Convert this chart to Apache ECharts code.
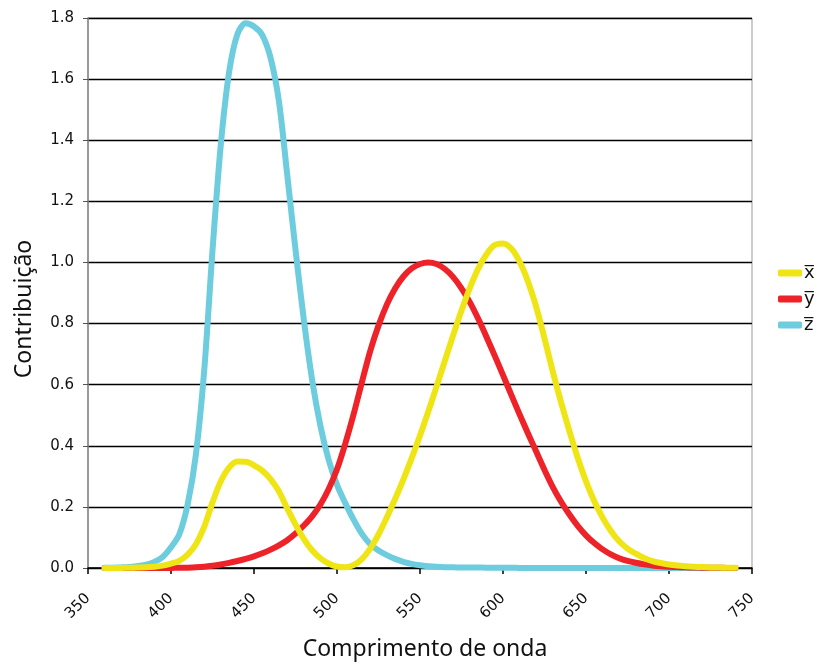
<!DOCTYPE html>
<html>
<head>
<meta charset="utf-8">
<script src="https://cdn.jsdelivr.net/npm/echarts@6/dist/echarts.min.js"></script>
<style>
  html, body { margin: 0; padding: 0; background: #fff; }
  #chart { width: 817px; height: 664px; }
</style>
</head>
<body>
<div id="chart"></div>
<script>
  // wavelengths (nm) every 5 nm and the three colour matching curves
  const wavelengths = [360, 365, 370, 375, 380, 385, 390, 395, 400, 405, 410, 415, 420, 425, 430, 435,
    440, 445, 450, 455, 460, 465, 470, 475, 480, 485, 490, 495, 500, 505, 510, 515, 520, 525,
    530, 535, 540, 545, 550, 555, 560, 565, 570, 575, 580, 585, 590, 595, 600, 605, 610, 615,
    620, 625, 630, 635, 640, 645, 650, 655, 660, 665, 670, 675, 680, 685, 690, 695, 700, 705,
    710, 715, 720, 725, 730, 735, 740]
  const xBar = [0.0001, 0.0002, 0.0004, 0.0007, 0.0014, 0.0022, 0.0042, 0.0077, 0.0143, 0.0232,
    0.0435, 0.0776, 0.1344, 0.2148, 0.2839, 0.3285, 0.3483, 0.3481, 0.3362, 0.3187, 0.2908,
    0.2511, 0.1954, 0.1421, 0.0956, 0.0580, 0.0320, 0.0147, 0.0049, 0.0024, 0.0093, 0.0291,
    0.0633, 0.1096, 0.1655, 0.2258, 0.2904, 0.3597, 0.4334, 0.5121, 0.5945, 0.6784, 0.7621,
    0.8425, 0.9163, 0.9791, 1.0263, 1.0567, 1.0622, 1.0456, 1.0026, 0.9384, 0.8545, 0.7514,
    0.6424, 0.5419, 0.4479, 0.3608, 0.2835, 0.2187, 0.1649, 0.1212, 0.0874, 0.0636, 0.0468,
    0.0329, 0.0227, 0.0162, 0.0114, 0.0081, 0.0058, 0.0041, 0.0029, 0.0020, 0.0014, 0.0010, 0.0007]
  const yBar = [0.0000, 0.0000, 0.0000, 0.0000, 0.0000, 0.0001, 0.0001, 0.0002, 0.0004, 0.0006,
    0.0012, 0.0022, 0.0040, 0.0073, 0.0116, 0.0168, 0.0230, 0.0298, 0.0380, 0.0480, 0.0600,
    0.0739, 0.0910, 0.1126, 0.1390, 0.1692, 0.2080, 0.2586, 0.3230, 0.4073, 0.5030, 0.6082,
    0.7100, 0.7932, 0.8620, 0.9149, 0.9540, 0.9803, 0.9950, 1.0000, 0.9950, 0.9786, 0.9520,
    0.9154, 0.8700, 0.8163, 0.7570, 0.6949, 0.6310, 0.5668, 0.5030, 0.4412, 0.3810, 0.3210,
    0.2650, 0.2170, 0.1750, 0.1382, 0.1070, 0.0816, 0.0610, 0.0446, 0.0320, 0.0232, 0.0170,
    0.0119, 0.0082, 0.0057, 0.0041, 0.0029, 0.0021, 0.0015, 0.0010, 0.0007, 0.0005, 0.0004, 0.0002]
  const zBar = [0.0006, 0.0011, 0.0019, 0.0031, 0.0065, 0.0106, 0.0201, 0.0362, 0.0679, 0.1102,
    0.2074, 0.3713, 0.6456, 1.0391, 1.3856, 1.6230, 1.7471, 1.7826, 1.7721, 1.7441, 1.6692,
    1.5281, 1.2876, 1.0419, 0.8130, 0.6162, 0.4652, 0.3533, 0.2720, 0.2123, 0.1582, 0.1117,
    0.0783, 0.0573, 0.0422, 0.0298, 0.0203, 0.0134, 0.0088, 0.0058, 0.0039, 0.0028, 0.0021,
    0.0018, 0.0017, 0.0014, 0.0011, 0.0010, 0.0008, 0.0006, 0.0003, 0.0002, 0.0002, 0.0001,
    0.0000, 0.0000, 0.0000, 0.0000, 0.0000, 0.0000, 0.0000, 0.0000, 0.0000, 0.0000, 0.0000,
    0.0000, 0.0000, 0.0000, 0.0000, 0.0000, 0.0000, 0.0000, 0.0000, 0.0000, 0.0000, 0.0000, 0.0000]
  const seriesNames = ['x\u0305', 'y\u0305', 'z\u0305']
  const seriesColors = ['#EFE514', '#EE2229', '#6DCCDD']
  const xTicks = [350, 750, 50]
  const yTicks = [0, 1.8, 0.2]

  const pairs = (vals) => wavelengths.map((w, i) => [w, vals[i]])

  const chart = echarts.init(document.getElementById('chart'))
  chart.setOption({
    animation: false,
    textStyle: { fontFamily: 'DejaVu Sans' },
    grid: {
      left: 88,
      right: 65,
      top: 18,
      bottom: 96,
      outerBoundsMode: 'none',
      show: true,
      borderColor: '#999',
      borderWidth: 1
    },
    legend: {
      orient: 'vertical',
      left: 773,
      top: 259,
      itemWidth: 24,
      itemHeight: 7,
      itemGap: 8,
      icon: 'roundRect',
      textStyle: { fontSize: 18, color: '#111', fontFamily: 'DejaVu Sans', padding: [0, 0, 0, -3] },
      data: seriesNames
    },
    xAxis: {
      type: 'value',
      min: xTicks[0],
      max: xTicks[1],
      interval: xTicks[2],
      name: 'Comprimento de onda',
      nameLocation: 'middle',
      nameGap: 70,
      nameTextStyle: { fontSize: 23, color: '#111', fontFamily: 'Noto Sans', padding: [0, 0, 0, 10] },
      axisLine: { lineStyle: { color: '#000', width: 1.5 } },
      axisTick: { length: 6, lineStyle: { color: '#000', width: 1.5 } },
      axisLabel: { rotate: 45, fontSize: 15, color: '#111', margin: 28 },
      splitLine: { show: false }
    },
    yAxis: {
      type: 'value',
      min: yTicks[0],
      max: yTicks[1],
      interval: yTicks[2],
      name: 'Contribuição',
      nameLocation: 'middle',
      nameGap: 52,
      nameTextStyle: { fontSize: 23, color: '#111', fontFamily: 'Noto Sans', padding: [0, 32, 0, 0] },
      axisLine: { show: true, lineStyle: { color: '#888', width: 1.5 } },
      axisTick: { show: true, length: 5, lineStyle: { color: '#555' } },
      axisLabel: { fontSize: 15, color: '#111', margin: 14, formatter: (v) => v.toFixed(1) },
      splitLine: { lineStyle: { color: '#000', width: 1.3 } }
    },
    series: [xBar, yBar, zBar].map((vals, i) => ({
      name: seriesNames[i],
      type: 'line',
      data: pairs(vals),
      smooth: 0.3,
      showSymbol: false,
      symbol: 'none',
      color: seriesColors[i],
      lineStyle: { width: 6, color: seriesColors[i], cap: 'round', join: 'round' },
      z: 3 - i
    }))
  })
</script>
</body>
</html>
